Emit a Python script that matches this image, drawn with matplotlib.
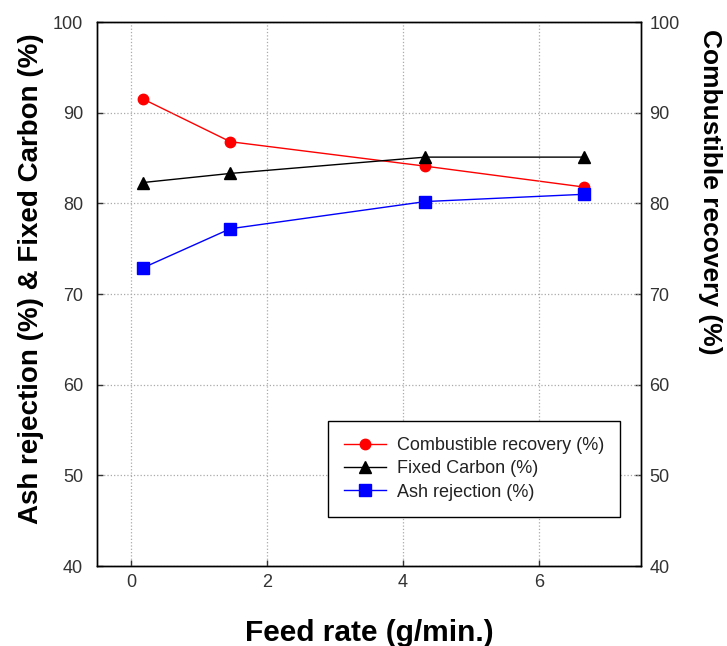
import matplotlib
matplotlib.use("Agg")
import matplotlib.pyplot as plt

# values
feed_rate = [0.18, 1.46, 4.33, 6.66]
combustible = [91.5, 86.8, 84.1, 81.8]
fixed_carbon = [82.3, 83.3, 85.1, 85.1]
ash_rejection = [72.9, 77.2, 80.2, 81.0]

x_ticks = [0, 2, 4, 6]
y_ticks = [40, 50, 60, 70, 80, 90, 100]

plt.rcParams['font.family'] = ['Liberation Sans', 'DejaVu Sans']

fig = plt.figure(figsize=(7.27, 6.46), dpi=100)
ax = fig.add_axes([0.1334, 0.1238, 0.7483, 0.8421])
ax2 = ax.twinx()

l2, = ax.plot(feed_rate, fixed_carbon, color='black', marker='^', markersize=8, lw=1.0,
              label='Fixed Carbon (%)')
l3, = ax.plot(feed_rate, ash_rejection, color='#0000ff', marker='s', markersize=8, lw=1.0,
              label='Ash rejection (%)')
# combustible recovery goes on the right hand axis
l1, = ax2.plot(feed_rate, combustible, color='#ff0000', marker='o', markersize=7.5, lw=1.0,
               label='Combustible recovery (%)')

for a in (ax, ax2):
    a.set_xlim(-0.5, 7.5)
    a.set_ylim(40, 100)
    a.set_yticks(y_ticks)
    for s in a.spines.values():
        s.set_linewidth(1.0)

ax.set_xticks(x_ticks)
ax.grid(True, linestyle=':', color='#aaaaaa', linewidth=0.9)
ax.tick_params(axis='both', direction='in', length=4.5, width=1, labelsize=13, colors='#333333')
ax.tick_params(axis='y', pad=10)
ax.tick_params(axis='x', pad=6)
ax2.tick_params(axis='y', direction='in', length=4.5, width=1, labelsize=13, pad=6, colors='#333333')

fig.text(0.043, 1 - 279 / 646, 'Ash rejection (%) & Fixed Carbon (%)', rotation=90,
         fontsize=20, fontweight='bold', ha='center', va='center')
fig.text(710 / 727, 1 - 192 / 646, 'Combustible recovery (%)', rotation=270,
         fontsize=19, fontweight='bold', ha='center', va='center')
fig.text(369 / 727, 1 - 633 / 646, 'Feed rate (g/min.)',
         fontsize=21.5, fontweight='bold', ha='center', va='center')

leg = ax.legend(handles=[l1, l2, l3], loc='upper left', bbox_to_anchor=(0.425, 0.267),
                borderaxespad=0, fontsize=13, frameon=True, fancybox=False,
                edgecolor='black', framealpha=1, handlelength=2.3, handletextpad=0.6,
                labelspacing=0.35, borderpad=0.9)
leg.get_frame().set_linewidth(1.0)
for t in leg.get_texts():
    t.set_color('#222222')

# keep legend above the twin axis lines
ax.set_zorder(ax2.get_zorder() + 1)
ax.patch.set_visible(False)

fig.savefig('out.png', dpi=100)
